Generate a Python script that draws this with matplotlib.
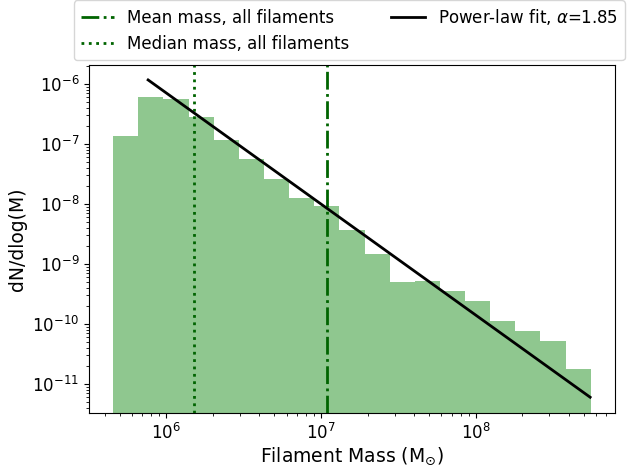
import numpy as np
import matplotlib
matplotlib.use("Agg")
import matplotlib.pyplot as plt

# histogram: log-spaced bin edges and dN/dlog(M) per bin
bin_lo, bin_hi, n_bins = 4.53e5, 5.55e8, 19
dn_dlogm = [1.37e-7, 6.15e-7, 5.7e-7, 2.78e-7, 1.15e-7, 5.7e-8, 2.64e-8,
            1.24e-8, 9.4e-9, 3.73e-9, 1.45e-9, 5.08e-10, 5.2e-10, 3.55e-10,
            2.45e-10, 1.12e-10, 7.6e-11, 5.3e-11, 1.8e-11]

mean_mass = 1.09e7
median_mass = 1.51e6

# power-law fit
alpha = 1.85
fit_m0, fit_y0 = 7.62e5, 1.17e-6   # start point of the fit line
fit_m1 = 5.5e8

edges = np.logspace(np.log10(bin_lo), np.log10(bin_hi), n_bins + 1)
centers = np.sqrt(edges[:-1] * edges[1:])

fig = plt.figure(figsize=(6.29, 4.66), dpi=100)
ax = fig.add_axes([0.1415, 0.1137, 0.8362, 0.7468])

ax.hist(centers, bins=edges, weights=dn_dlogm, color="green", alpha=0.44)

ax.axvline(mean_mass, color="darkgreen", linestyle="-.", lw=2,
           label="Mean mass, all filaments")
ax.axvline(median_mass, color="darkgreen", linestyle=":", lw=2,
           label="Median mass, all filaments")

m_fit = np.array([fit_m0, fit_m1])
ax.plot(m_fit, fit_y0 * (m_fit / fit_m0) ** (-alpha), color="black", lw=2,
        label=r"Power-law fit, $\alpha$=1.85")

ax.set_xscale("log")
ax.set_yscale("log")
ax.set_xlim(3.16e5, 7.96e8)
ax.set_ylim(10 ** -11.483, 10 ** -5.683)
ax.tick_params(labelsize=12)
ax.set_xlabel(r"Filament Mass (M$_{\odot}$)", fontsize=13.5, labelpad=2)
ax.set_ylabel("dN/dlog(M)", fontsize=13.5)

ax.legend(loc="lower center", bbox_to_anchor=(0.495, 1.005), ncol=2,
          fontsize=12, borderaxespad=0.2, columnspacing=2.5)

fig.savefig("out.png", dpi=100)
